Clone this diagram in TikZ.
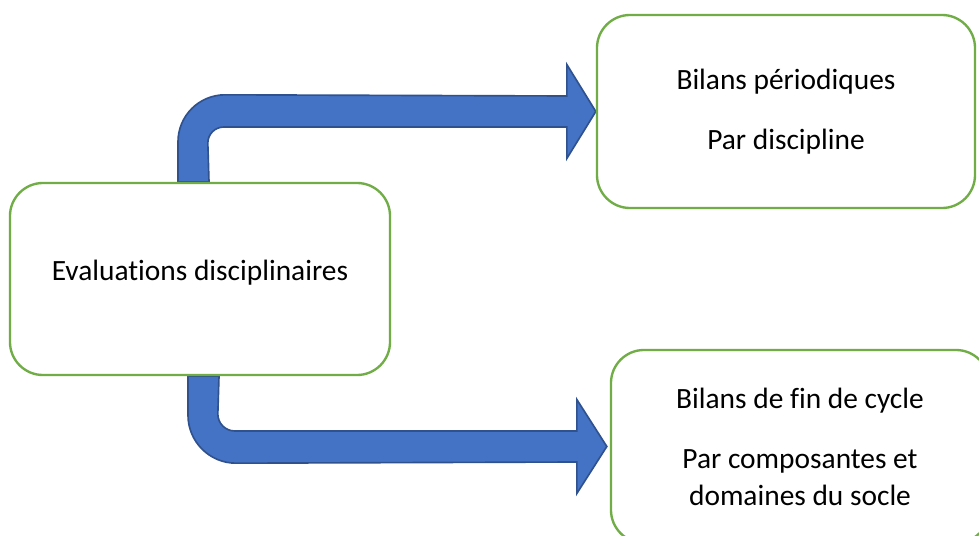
\documentclass[tikz,border=0pt]{standalone}
\usepackage{fontspec}
\setmainfont{Carlito}[Ligatures=NoCommon]
\usetikzlibrary{calc,backgrounds}
\definecolor{boxgreen}{HTML}{70AD47}
\definecolor{arrowblue}{HTML}{4472C4}
\definecolor{arrowedge}{HTML}{2F528F}
\tikzset{
  bilanbox/.style={shape=rectangle, draw=boxgreen, line width=2pt, fill=white,
    rounded corners=0.99cm, align=center, minimum width=11.34cm, minimum height=5.79cm,
    font=\fontsize{25.1pt}{31.6pt}\selectfont},
  bigarrow/.style={fill=arrowblue, draw=arrowedge, line width=1.4pt, line join=miter}
}
\begin{document}
\begin{tikzpicture}[x=0.03cm, y=-0.03cm]
\clip (0,0) rectangle (979,536);
\node (eval) at (200,279) [bilanbox, minimum width=11.4cm, minimum height=5.76cm, text depth=0.5cm]{Evaluations disciplinaires};
\node (periode) at (786,111.5) [bilanbox]{Bilans périodiques\\[19.6pt]Par discipline};
\node (fin) at (800,446.5) [bilanbox]{Bilans de fin de cycle\\[19.6pt]Par composantes et\\domaines du socle};
\begin{scope}[on background layer]
\fill[white] (0,0) rectangle (979,536);
% upper arrow
\draw[bigarrow] ($(eval.north)+(-22,0)$) -- ++(0,-40)
  arc[start angle=180, end angle=270, radius=47] -- ($(periode.west)+(-29,-15.5)$)
  -- ++(0,-31.5) -- (periode.west) -- ++(-29,47) -- ++(0,-31.5)
  -- ++(-343,0) arc[start angle=270, end angle=180, radius=16]
  -- ($(eval.north)+(9,0)$) -- cycle;
% lower arrow
\draw[bigarrow] ($(eval.south)+(-12,0)$) -- ++(0,39)
  arc[start angle=180, end angle=90, radius=48] -- ($(fin.west)+(-33,15.5)$)
  -- ++(0,31.5) -- ($(fin.west)+(-3,0)$) -- ++(-30,-47) -- ++(0,31.5)
  -- ++(-342,0) arc[start angle=90, end angle=180, radius=17]
  -- ($(eval.south)+(19,0)$) -- cycle;
\end{scope}
\end{tikzpicture}
\end{document}
